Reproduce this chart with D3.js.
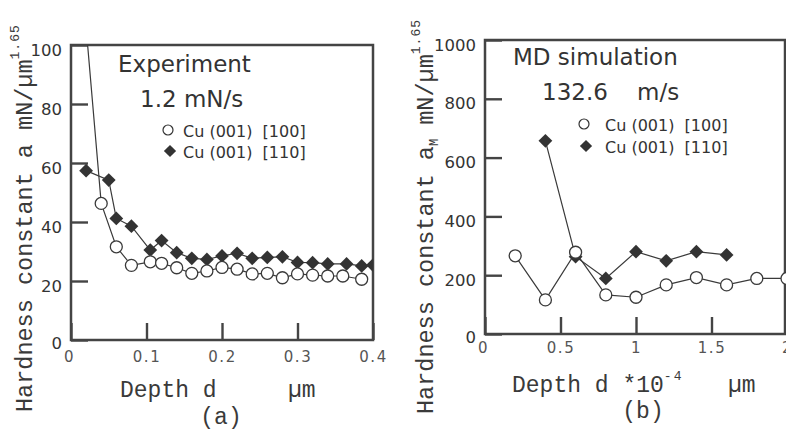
<!DOCTYPE html>
<html>
<head>
<meta charset="utf-8">
<script src="https://cdn.jsdelivr.net/npm/d3@7/dist/d3.min.js"></script>
<style>
  body { margin: 0; background: #fff; }
  svg { display: block; }
  .mono { font-family: "Liberation Mono", "Courier New", monospace; fill: #3a3a3a; }
  .sans { font-family: "DejaVu Sans", sans-serif; fill: #333; }
</style>
</head>
<body>
<div id="chart"></div>
<script>
// (a) experiment, 1.2 mN/s
var depthA100 = [0.02, 0.04, 0.06, 0.08, 0.105, 0.12, 0.14, 0.16, 0.18, 0.2, 0.22, 0.24, 0.26, 0.28, 0.3, 0.32, 0.34, 0.36, 0.385];
var hardA100  = [106, 46.3, 31.6, 25.3, 26.5, 26, 24.5, 22.6, 23.4, 24.6, 24, 22.4, 22.6, 21.1, 22.4, 22, 21.7, 21.7, 20.6];
var depthA110 = [0.02, 0.05, 0.06, 0.08, 0.105, 0.12, 0.14, 0.16, 0.18, 0.2, 0.22, 0.24, 0.26, 0.28, 0.3, 0.32, 0.34, 0.365, 0.385, 0.4];
var hardA110  = [57.4, 54.2, 41.2, 38.6, 30.5, 33.7, 29.6, 27.7, 27.3, 28.5, 29.4, 27.7, 28, 28.2, 26.3, 26.2, 25.8, 25.8, 25.1, 25.4];

// (b) MD simulation, 132.6 m/s  (depth in 1e-4 um)
var depthB100 = [0.2, 0.4, 0.6, 0.8, 1.0, 1.2, 1.4, 1.6, 1.8, 2.0];
var hardB100  = [266, 116, 278, 133, 125, 167, 192, 167, 189, 189];
var depthB110 = [0.4, 0.6, 0.8, 1.0, 1.2, 1.4, 1.6];
var hardB110  = [657, 263, 189, 280, 249, 280, 269];

var legendLabels = ["Cu (001)  [100]", "Cu (001)  [110]"];
var ticksAx = [0, 0.1, 0.2, 0.3, 0.4], ticksAy = [0, 20, 40, 60, 80, 100];
var ticksBx = [0, 0.5, 1, 1.5, 2], ticksBy = [0, 200, 400, 600, 800, 1000];

var W = 786, H = 430;
var svg = d3.select("#chart").append("svg").attr("width", W).attr("height", H);

var panels = [
  { x: d3.scaleLinear().domain([0, 0.4]).range([71, 373]),
    y: d3.scaleLinear().domain([0, 100]).range([340, 45]),
    tx: ticksAx, ty: ticksAy, xlabY: 22, right: 373,
    s100: d3.zip(depthA100, hardA100), s110: d3.zip(depthA110, hardA110), id: "a" },
  { x: d3.scaleLinear().domain([0, 2]).range([485, 787]),
    y: d3.scaleLinear().domain([0, 1000]).range([334, 40]),
    tx: ticksBx, ty: ticksBy, xlabY: 19, right: 785,
    s100: d3.zip(depthB100, hardB100), s110: d3.zip(depthB110, hardB110), id: "b" }
];

// square turned 45 degrees, like the printed diamonds
var diamond = d3.symbol().type(d3.symbolSquare);

panels.forEach(function(p) {
  var x0 = p.x.range()[0], x1 = p.right, y0 = p.y.range()[0], y1 = p.y.range()[1];

  svg.append("clipPath").attr("id", "clip" + p.id)
    .append("rect").attr("x", x0).attr("y", y1).attr("width", p.x.range()[1] - x0).attr("height", y0 - y1);

  // y axis, ticks inside
  var ya = svg.append("g").attr("transform", "translate(" + x0 + ",0)")
    .call(d3.axisLeft(p.y).tickValues(p.ty).tickSize(-17).tickPadding(9).tickFormat(function(d) { return d; }));
  ya.select(".domain").remove();
  ya.selectAll(".tick line").attr("stroke", "#444").attr("stroke-width", 2.4);
  ya.selectAll(".tick text").attr("dy", null).attr("y", 10)
    .style("font-size", "16.5px").style("font-family", "DejaVu Sans, sans-serif").attr("fill", "#333");
  ya.selectAll(".tick").filter(function(d) { return d === 0; }).select("text").attr("x", -9).attr("y", 8);

  // x axis, ticks inside
  var xa = svg.append("g").attr("transform", "translate(0," + y0 + ")")
    .call(d3.axisBottom(p.x).tickValues(p.tx).tickSize(-17).tickPadding(0).tickFormat(function(d) { return d; }));
  xa.select(".domain").remove();
  xa.selectAll(".tick line").attr("stroke", "#444").attr("stroke-width", 2.4);
  xa.selectAll(".tick text").attr("dy", null).attr("y", p.xlabY)
    .style("font-size", "15px").style("font-family", "DejaVu Sans, sans-serif")
    .style("letter-spacing", "1.5px").attr("fill", "#555");
  xa.selectAll(".tick").filter(function(d) { return d === 0; }).select("text").attr("dx", -2);

  // frame
  svg.append("rect").attr("x", x0).attr("y", y1).attr("width", x1 - x0).attr("height", y0 - y1)
    .attr("fill", "none").attr("stroke", "#444").attr("stroke-width", 2.5);

  var line = d3.line().x(function(d) { return p.x(d[0]); }).y(function(d) { return p.y(d[1]); });
  var g = svg.append("g").attr("clip-path", "url(#clip" + p.id + ")");

  g.append("path").datum(p.s110).attr("d", line)
    .attr("fill", "none").attr("stroke", "#3a3a3a").attr("stroke-width", 1.2);
  g.append("path").datum(p.s100).attr("d", line)
    .attr("fill", "none").attr("stroke", "#3a3a3a").attr("stroke-width", 1.2);

  g.selectAll(".d110").data(p.s110).enter().append("path")
    .attr("d", diamond.size(95))
    .attr("transform", function(d) { return "translate(" + p.x(d[0]) + "," + p.y(d[1]) + ") rotate(45)"; })
    .attr("fill", "#333");
  svg.selectAll(".c100" + p.id).data(p.s100).enter().append("circle")
    .attr("cx", function(d) { return p.x(d[0]); })
    .attr("cy", function(d) { return p.y(d[1]); })
    .attr("r", 6).attr("fill", "#fff").attr("stroke", "#3a3a3a").attr("stroke-width", 1.3)
    .style("display", function(d) { return p.y(d[1]) < y1 ? "none" : null; });
});

// legends and titles
function legend(cx, tx, yc) {
  svg.append("circle").attr("cx", cx).attr("cy", yc[0]).attr("r", 5)
    .attr("fill", "#fff").attr("stroke", "#333").attr("stroke-width", 1.2);
  svg.append("path").attr("d", diamond.size(75))
    .attr("transform", "translate(" + (cx + 2) + "," + yc[1] + ") rotate(45)").attr("fill", "#333");
  legendLabels.forEach(function(t, i) {
    svg.append("text").attr("class", "sans").attr("x", tx).attr("y", yc[i] + 7)
      .style("font-size", "16px").style("white-space", "pre").text(t);
  });
}
legend(168, 183, [130, 151]);
legend(584, 605, [124, 146]);

svg.append("text").attr("class", "sans").attr("x", 118).attr("y", 72).style("font-size", "23px").text("Experiment");
svg.append("text").attr("class", "sans").attr("x", 140).attr("y", 107).style("font-size", "23px").text("1.2 mN/s");
svg.append("text").attr("class", "sans").attr("x", 513).attr("y", 65).style("font-size", "23px").text("MD simulation");
svg.append("text").attr("class", "sans").attr("x", 542).attr("y", 100).style("font-size", "23px").text("132.6");
svg.append("text").attr("class", "sans").attr("x", 637).attr("y", 100).style("font-size", "23px").text("m/s");

// x titles
svg.append("text").attr("class", "mono").attr("x", 120).attr("y", 397).style("font-size", "23px").text("Depth d");
svg.append("text").attr("class", "mono").attr("x", 288).attr("y", 397).style("font-size", "23px").text("µm");
svg.append("text").attr("class", "mono").attr("x", 221).attr("y", 424).attr("text-anchor", "middle").style("font-size", "23px").text("(a)");

var xb = svg.append("text").attr("class", "mono").attr("x", 512).attr("y", 392).style("font-size", "23px");
xb.append("tspan").text("Depth d *10");
xb.append("tspan").attr("dy", -12).style("font-size", "13px").style("letter-spacing", "2px").text("-4");
svg.append("text").attr("class", "mono").attr("x", 728).attr("y", 392).style("font-size", "23px").text("µm");
svg.append("text").attr("class", "mono").attr("x", 643).attr("y", 418).attr("text-anchor", "middle").style("font-size", "23px").text("(b)");

// y titles
var ta = svg.append("text").attr("class", "mono").attr("transform", "translate(32,412) rotate(-90)").style("font-size", "23.5px");
ta.append("tspan").text("Hardness constant a mN/µm");
ta.append("tspan").attr("dy", -13).style("font-size", "13px").style("letter-spacing", "1px").text("1.65");

var tb = svg.append("text").attr("class", "mono").attr("transform", "translate(433,414) rotate(-90)").style("font-size", "23.5px");
tb.append("tspan").text("Hardness constant a");
tb.append("tspan").attr("dy", 5).style("font-size", "12px").text("M");
tb.append("tspan").attr("dy", -5).text(" mN/µm");
tb.append("tspan").attr("dy", -13).style("font-size", "13px").style("letter-spacing", "1px").text("1.65");
</script>
</body>
</html>
